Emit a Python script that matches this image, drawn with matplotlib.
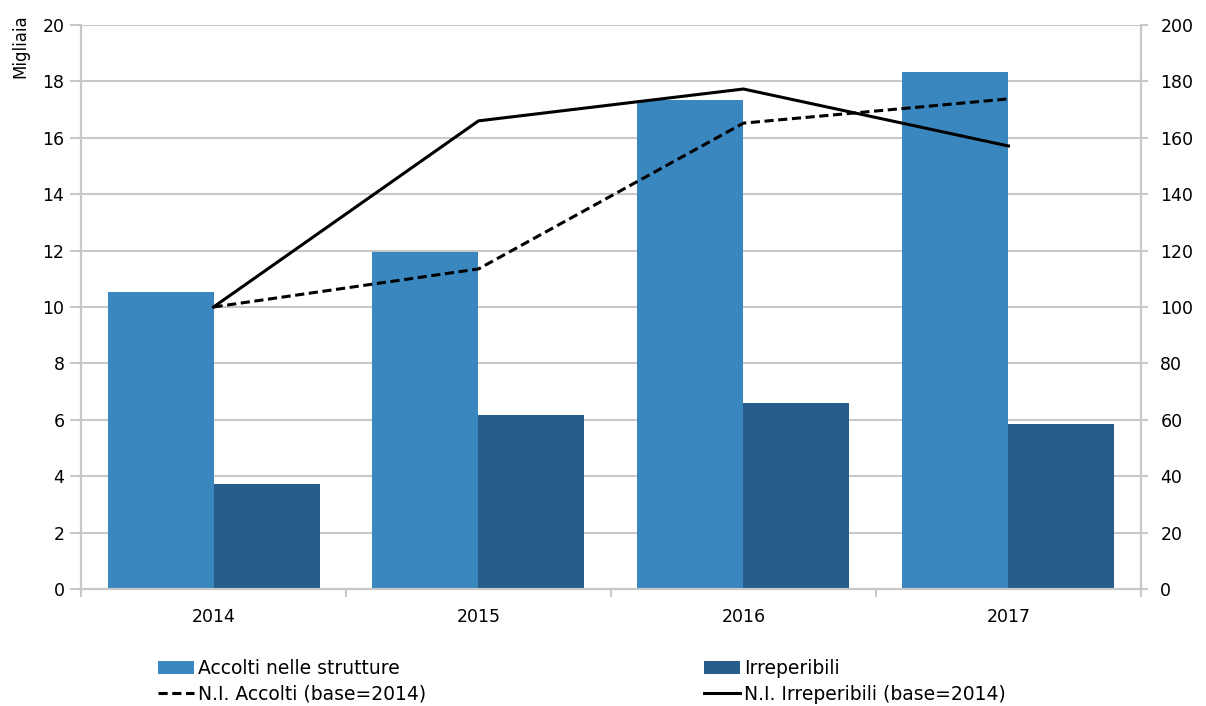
import numpy as np
import matplotlib.pyplot as plt

# ------ Data ------
anni = ['2014', '2015', '2016', '2017']
accolti = [10.53, 11.95, 17.34, 18.33]          # migliaia
irreperibili = [3.72, 6.17, 6.60, 5.85]         # migliaia
ni_accolti = [100, 113.5, 165.2, 173.8]         # base=2014
ni_irreperibili = [100, 166.0, 177.3, 157.1]    # base=2014

c_light = '#3a87c0'
c_dark = '#275d8a'
grid_c = '#c8c8c8'

fig = plt.figure(figsize=(12.06, 7.06), dpi=100)
ax = fig.add_axes([0.0672, 0.1657, 0.8788, 0.7989])
ax2 = ax.twinx()

x = np.arange(len(anni))
w = 0.4
b1 = ax.bar(x - w / 2, accolti, w, color=c_light, label='Accolti nelle strutture', zorder=2)
b2 = ax.bar(x + w / 2, irreperibili, w, color=c_dark, label='Irreperibili', zorder=2)

l1, = ax2.plot(x, ni_accolti, color='black', lw=2.2, ls=(0, (3, 1.5)), label='N.I. Accolti (base=2014)')
l2, = ax2.plot(x, ni_irreperibili, color='black', lw=2.2, label='N.I. Irreperibili (base=2014)')

ax.set_xlim(-0.5, 3.5)
ax.set_ylim(0, 20)
ax.set_yticks(np.arange(0, 21, 2))
ax2.set_ylim(0, 200)
ax2.set_yticks(np.arange(0, 201, 20))

ax.set_xticks(x)
ax.set_xticklabels(anni)
ax.set_xticks(np.arange(-0.5, 3.6, 1), minor=True)
ax.tick_params(axis='x', which='major', length=0, pad=14, labelsize=12.5)
ax.tick_params(axis='x', which='minor', length=6, width=1.5, color=grid_c, direction='out')
ax.tick_params(axis='y', length=8, width=1.5, color=grid_c, labelsize=12.5, pad=4)
ax2.tick_params(axis='y', length=5, width=1.5, color=grid_c, labelsize=12.5, pad=9)

ax.yaxis.grid(True, color=grid_c, lw=1.5, zorder=0)
ax.set_axisbelow(True)

for a in (ax, ax2):
    a.spines['top'].set_visible(False)
    for s in ('left', 'right', 'bottom'):
        a.spines[s].set_color(grid_c)
        a.spines[s].set_linewidth(1.5)

fig.text(20 / 1206, 1 - 14 / 706, 'Migliaia', rotation=90, va='top', ha='center', fontsize=12)

leg_kw = dict(loc='upper left', frameon=False, fontsize=13.5, handlelength=1.9,
              handletextpad=0.25, labelspacing=0.35, borderpad=0, borderaxespad=0)
leg1 = fig.legend(handles=[b1, l1], bbox_to_anchor=(158 / 1206, 1 - 659 / 706), **leg_kw)
leg2 = fig.legend(handles=[b2, l2], bbox_to_anchor=(704 / 1206, 1 - 659 / 706), **leg_kw)

fig.savefig('out.png', dpi=100)
